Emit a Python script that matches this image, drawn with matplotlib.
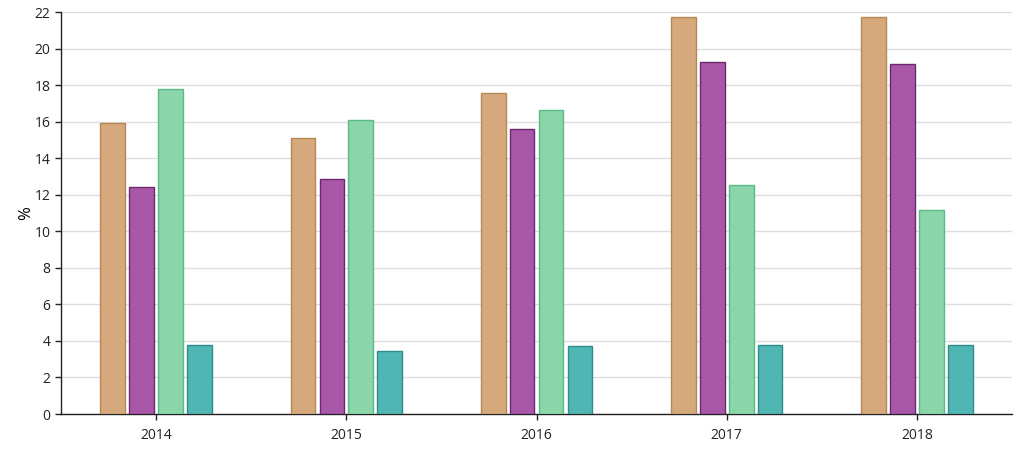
import matplotlib

matplotlib.use("Agg")

import matplotlib.pyplot as plt
import numpy as np

years = ["2014", "2015", "2016", "2017", "2018"]
series_a = [15.9, 15.1, 17.57, 21.73, 21.73]
series_b = [12.4, 12.88, 15.6, 19.27, 19.15]
series_c = [17.8, 16.1, 16.63, 12.55, 11.15]
series_d = [3.8, 3.45, 3.73, 3.77, 3.8]

fills = ["#d5a97c", "#a857a9", "#8ad5a9", "#4fb6b4"]
edges = ["#b58656", "#6b2a6c", "#5bbb86", "#2f8c8a"]

plt.rcParams["font.family"] = ["Open Sans", "DejaVu Sans"]

fig = plt.figure(figsize=(10.24, 4.55), dpi=100)
ax = fig.add_axes([0.0596, 0.0901, 0.9287, 0.8835])

x = np.arange(len(years))
width = 0.13
offsets = [-0.228, -0.076, 0.076, 0.228]
for vals, off, fc, ec in zip([series_a, series_b, series_c, series_d], offsets, fills, edges):
    ax.bar(x + off, vals, width, color=fc, edgecolor=ec, linewidth=1, zorder=3)

ax.set_xlim(-0.5, len(years) - 0.5)
ax.set_ylim(0, 22)
ax.set_yticks(np.arange(0, 23, 2))
ax.set_xticks(x)
ax.set_xticklabels(years)
ax.grid(axis="y", color="#dddddd", linewidth=1, zorder=0)
ax.set_ylabel("%", fontsize=12, labelpad=0)

for side in ["top", "right"]:
    ax.spines[side].set_visible(False)
for side in ["left", "bottom"]:
    ax.spines[side].set_color("#222222")
    ax.spines[side].set_linewidth(1)
ax.tick_params(axis="both", labelsize=10, colors="#222222", length=4, width=1)
ax.tick_params(axis="x", pad=6)

fig.savefig("out.png", dpi=100)
